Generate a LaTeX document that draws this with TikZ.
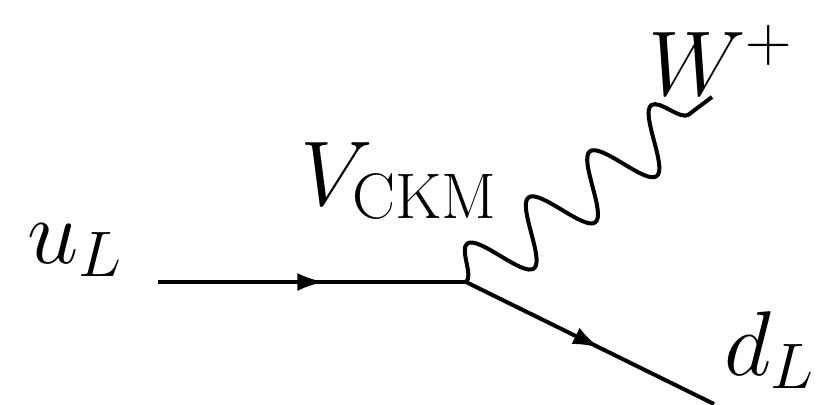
\RequirePackage{fix-cm}
\documentclass[tikz,border=0pt]{standalone}
\usepackage{tikz}
\usetikzlibrary{arrows.meta,positioning,decorations.markings,decorations.pathmorphing}

\begin{document}
\begin{tikzpicture}[x=0.5pt,y=-0.5pt,>={Latex[length=13.5pt,width=9pt]},line width=2pt]
  \tikzstyle{fermion}=[postaction={decorate},decoration={markings,mark=at position 0.54 with {\arrow{>}}}]
  \tikzstyle{boson}=[decorate,decoration={snake,amplitude=15pt,segment length=38.4pt}]
  \tikzstyle{lbl}=[inner sep=0pt,anchor=base west,font=\fontsize{46}{55}\selectfont]
  \useasboundingbox (0,0) rectangle (821,404);
  % external legs and vertex
  \coordinate (in) at (158,282);
  \coordinate (vtx) at (466,282);
  \coordinate (out) at (714,404);
  \coordinate (wend) at (712,97);
  % labels
  \node[lbl] (uL) at (25,263) {$u_L$};
  \node[lbl] (ckm) at (298,205) {$V_{\mathrm{CKM}}$};
  \node[lbl] (wp) at (646,95) {$W^+$};
  \node[lbl] (dL) at (722,375) {$d_L$};
  % propagators
  \draw[fermion] (in) -- (vtx);
  \draw[fermion] (vtx) -- (out);
  \draw[boson] (vtx) -- (wend);
\end{tikzpicture}
\end{document}
